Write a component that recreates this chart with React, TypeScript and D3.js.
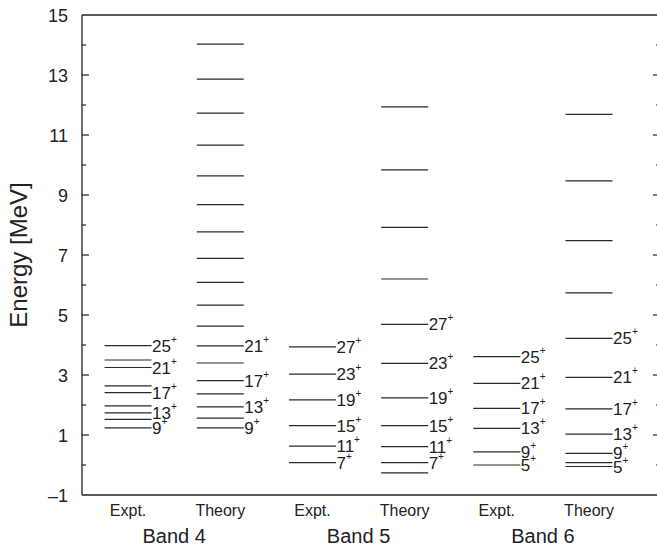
import React from "react";
import * as d3 from "d3";

// Level energies (MeV) per column, lowest first
const band4Expt = [1.24, 1.52, 1.74, 1.97, 2.41, 2.64, 3.25, 3.5, 3.98];
const band4Theory = [1.24, 1.56, 1.94, 2.37, 2.81, 3.4, 3.97, 4.63, 5.33, 6.09, 6.89, 7.77, 8.68, 9.64, 10.66, 11.73, 12.86, 14.03];
const band5Expt = [0.08, 0.63, 1.31, 2.17, 3.03, 3.94];
const band5Theory = [-0.26, 0.08, 0.61, 1.31, 2.24, 3.39, 4.69, 6.2, 7.92, 9.84, 11.94];
const band6Expt = [0.0, 0.44, 1.22, 1.89, 2.72, 3.61];
const band6Theory = [-0.05, 0.08, 0.39, 1.03, 1.87, 2.92, 4.22, 5.74, 7.48, 9.47, 11.69];

// Spin labels (I^+) attached to levels; null = unlabelled
const band4ExptSpins = [9, null, 13, null, 17, null, 21, null, 25];
const band4TheorySpins = [9, null, 13, null, 17, null, 21, null, null, null, null, null, null, null, null, null, null, null];
const band5ExptSpins = [7, 11, 15, 19, 23, 27];
const band5TheorySpins = [null, 7, 11, 15, 19, 23, 27, null, null, null, null];
const band6ExptSpins = [5, 9, 13, 17, 21, 25];
const band6TheorySpins = [5, null, 9, 13, 17, 21, 25, null, null, null, null];

const columnNames = ["Expt.", "Theory", "Expt.", "Theory", "Expt.", "Theory"];
const bandNames = ["Band 4", "Band 5", "Band 6"];
const yTickValues = d3.range(-1, 16);

const columns = [
  { energies: band4Expt, spins: band4ExptSpins },
  { energies: band4Theory, spins: band4TheorySpins },
  { energies: band5Expt, spins: band5ExptSpins },
  { energies: band5Theory, spins: band5TheorySpins },
  { energies: band6Expt, spins: band6ExptSpins },
  { energies: band6Theory, spins: band6TheorySpins },
];

const FONT = "'Liberation Sans', Arial, Helvetica, sans-serif";
const INK = "#222";

export default function App() {
  const W = 657;
  const H = 551;
  const left = 82;
  const right = 660;
  const top = 15;
  const bottom = 495;

  const y = d3.scaleLinear().domain([-1, 15]).range([bottom, top]);
  const x = d3.scaleLinear().domain([-0.5, 5.77]).range([left, right]);
  const halfW = 23.5;

  return (
    <svg
      width={W}
      height={H}
      style={{ position: "absolute", left: 0, top: 0, background: "#fff" }}
      fontFamily={FONT}
    >
      <rect x={0} y={0} width={W} height={H} fill="#fff" />

      {/* frame */}
      <g stroke={INK} strokeWidth={1.3} fill="none">
        <line x1={left} x2={left} y1={top} y2={bottom} />
        <line x1={left} x2={right} y1={top} y2={top} />
        <line x1={left} x2={right} y1={bottom} y2={bottom} />
        <line x1={right} x2={right} y1={top} y2={bottom} />
      </g>

      {/* y ticks, inward on both sides */}
      {yTickValues.map((v) => {
        const major = Math.abs(v % 2) === 1;
        const len = major ? 7 : 4;
        const yy = y(v);
        if (v <= -1 || v >= 15) return null;
        return (
          <g key={v} stroke={INK} strokeWidth={1.2}>
            <line x1={left} x2={left + len} y1={yy} y2={yy} />
            <line x1={right} x2={right - len} y1={yy} y2={yy} />
          </g>
        );
      })}
      {yTickValues
        .filter((v) => Math.abs(v % 2) === 1)
        .map((v) => (
          <text
            key={"l" + v}
            x={68}
            y={y(v) + 6.5}
            textAnchor="end"
            fontSize={18}
            fill={INK}
          >
            {v < 0 ? "\u2013" + Math.abs(v) : String(v)}
          </text>
        ))}

      {/* axis title */}
      <text
        transform={`translate(27, ${(top + bottom) / 2}) rotate(-90)`}
        textAnchor="middle"
        fontSize={24}
        fill={INK}
      >
        Energy [MeV]
      </text>

      {/* levels */}
      {columns.map((col, ci) => {
        const cx = x(ci);
        return (
          <g key={ci}>
            {col.energies.map((e, li) => (
              <line
                key={li}
                x1={cx - halfW}
                x2={cx + halfW}
                y1={y(e)}
                y2={y(e)}
                stroke="#2a2a2a"
                strokeWidth={1.2}
              />
            ))}
            {col.energies.map((e, li) => {
              const s = col.spins[li];
              if (s == null) return null;
              return (
                <text
                  key={"s" + li}
                  x={cx + halfW + 0.5}
                  y={y(e) + 6}
                  fontSize={17}
                  fill={INK}
                >
                  <tspan>{s}</tspan>
                  <tspan fontSize={10} dy={-9}>+</tspan>
                </text>
              );
            })}
          </g>
        );
      })}

      {/* column and band labels */}
      {columnNames.map((n, i) => (
        <text key={"c" + i} x={x(i)} y={516} textAnchor="middle" fontSize={16} fill={INK}>
          {n}
        </text>
      ))}
      {bandNames.map((n, i) => (
        <text
          key={"b" + i}
          x={(x(2 * i) + x(2 * i + 1)) / 2}
          y={543}
          textAnchor="middle"
          fontSize={20}
          fill={INK}
        >
          {n}
        </text>
      ))}
    </svg>
  );
}
